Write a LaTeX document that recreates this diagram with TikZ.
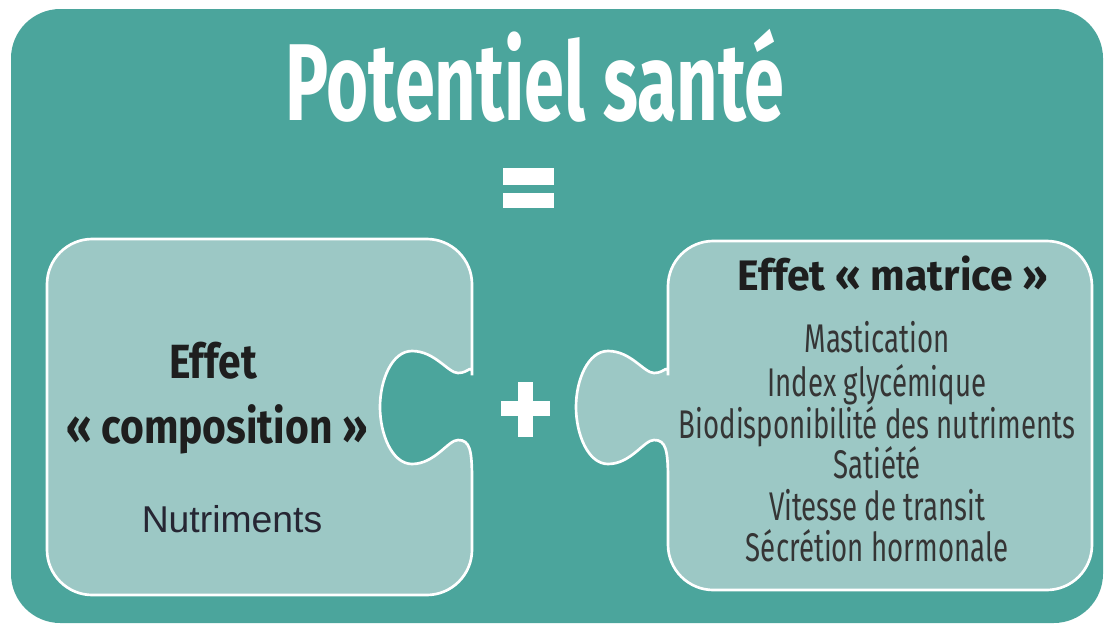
\documentclass[tikz,border=0pt]{standalone}
\usepackage{fontspec}
\setmainfont{Liberation Sans}
\newfontfamily\titlefont[FakeStretch=0.66]{Fira Sans}
\newfontfamily\headfont[FakeStretch=0.85]{Fira Sans}
\newfontfamily\wideheadfont[FakeStretch=0.96]{Fira Sans}
\newfontfamily\listfont[FakeStretch=0.69]{Fira Sans}

\definecolor{tealbg}{HTML}{4BA59C}
\definecolor{piecefill}{HTML}{9CC8C5}
\definecolor{inktext}{HTML}{1E1E1E}
\definecolor{nutrtext}{HTML}{262633}

% one puzzle knob on a vertical edge at x = #1, run from top to bottom
\newcommand{\knob}[1]{.. controls (#1,362) and ({#1-2},373) .. ({#1-14},373)
  .. controls ({#1-24},373) and ({#1-37},351) .. ({#1-60},351)
  .. controls ({#1-80},351) and ({#1-92},380) .. ({#1-92},407)
  .. controls ({#1-92},434) and ({#1-80},464) .. ({#1-60},464)
  .. controls ({#1-37},464) and ({#1-24},440) .. ({#1-14},440)
  .. controls ({#1-2},440) and (#1,450) .. (#1,480)}

\begin{document}
\begin{tikzpicture}[x=0.75pt, y=-0.75pt,
    piece/.style={fill=piecefill, draw=white, line width=2pt},
    sign/.style={fill=white},
    head/.style={font=\headfont\bfseries\fontsize{#1}{#1}\selectfont, text=inktext},
    item/.style={font=\listfont\fontsize{30}{32}\selectfont, text=inktext!90}]
  \useasboundingbox (0,0) rectangle (1105,628);
  \fill [tealbg, rounded corners=37pt] (11,9) rectangle (1103,623);

  % the two pieces
  \draw [piece] (472,480) [rounded corners=34pt] -- (472,595) -- (47,595)
    -- (47,239) -- (472,239) -- (472,330) [sharp corners] \knob{472} -- cycle;
  \draw [piece] (668,480) [rounded corners=34pt] -- (668,590) -- (1092,590)
    -- (1092,241) -- (668,241) -- (668,330) [sharp corners] \knob{668} -- cycle;

  % = and +
  \fill [sign] (503,168) rectangle (554,185);
  \fill [sign] (503,193) rectangle (554,208);
  \fill [sign] (501,401) rectangle (550,416);
  \fill [sign] (518,382) rectangle (533,437);

  \node (title) at (535,120) [anchor=base, text=white,
    font=\titlefont\bfseries\fontsize{82}{84}\selectfont] {Potentiel santé};

  \node (effet) at (213,378) [anchor=base, head=36] {Effet};
  \node (compo) at (217,443) [anchor=base, head=36] {« composition »};
  \node (nutri) at (232,532) [anchor=base, text=nutrtext,
    font=\fontsize{28}{30}\selectfont] {Nutriments};

  \node (matrice) at (893,290) [anchor=base, text=inktext,
    font=\wideheadfont\bfseries\fontsize{32}{34}\selectfont] {Effet « matrice »};
  \node (mast) at (877,352) [anchor=base, item] {Mastication};
  \node (index) at (877,396) [anchor=base, item] {Index glycémique};
  \node (biodisp) at (877,438) [anchor=base, item] {Biodisponibilité des nutriments};
  \node (satiete) at (877,478) [anchor=base, item] {Satiété};
  \node (vitesse) at (877,520) [anchor=base, item] {Vitesse de transit};
  \node (secretion) at (877,561) [anchor=base, item] {Sécrétion hormonale};
\end{tikzpicture}
\end{document}
